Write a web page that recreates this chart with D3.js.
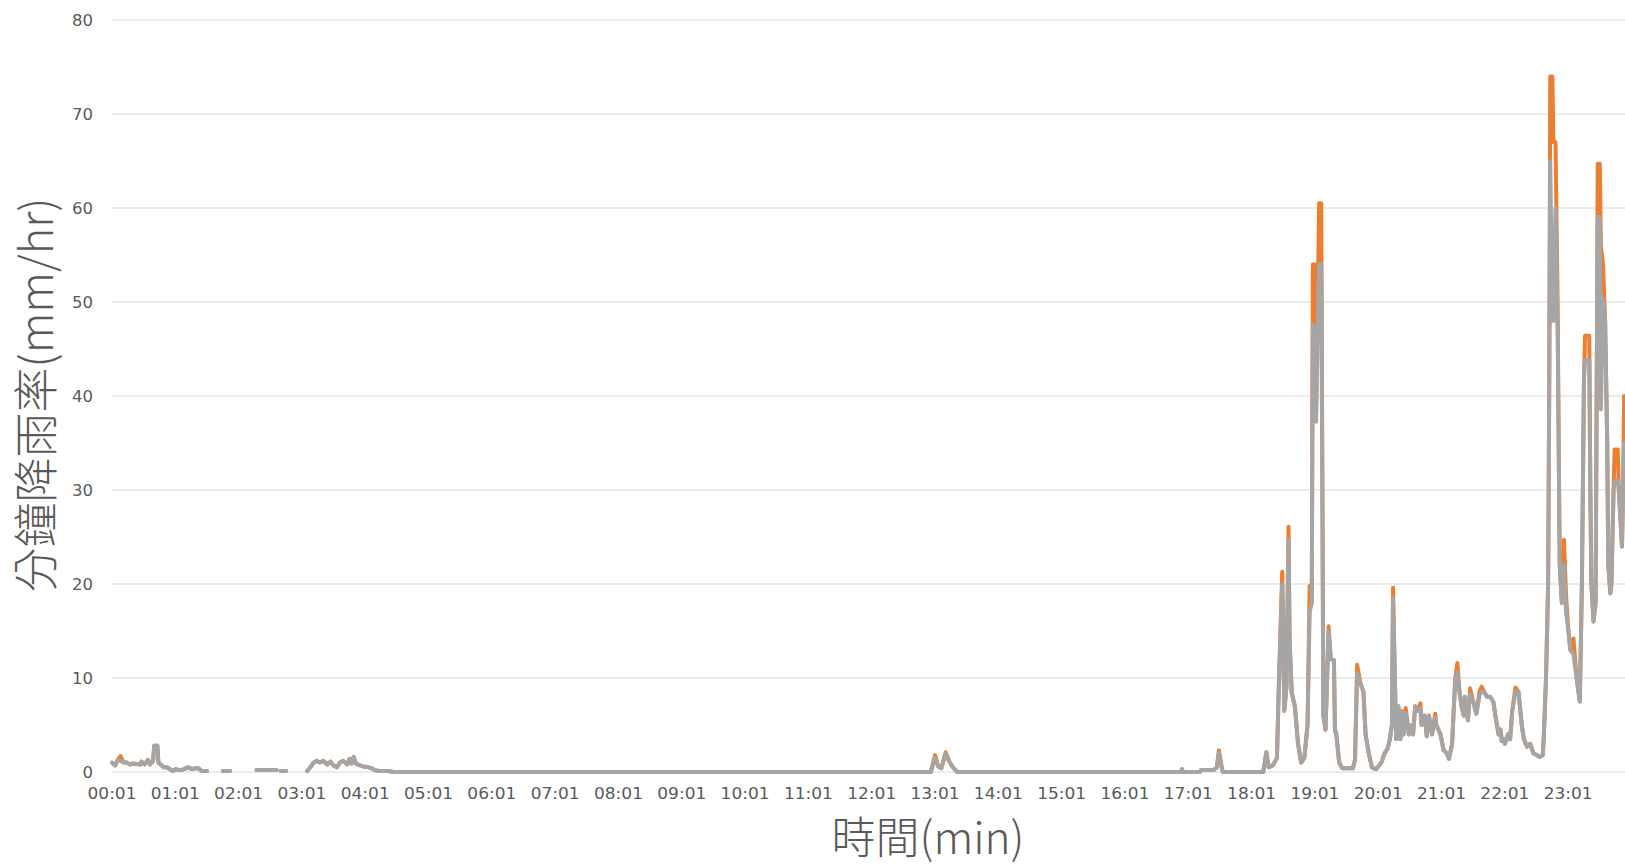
<!DOCTYPE html>
<html>
<head>
<meta charset="utf-8">
<script src="https://cdn.jsdelivr.net/npm/d3@7"></script>
<style>
  html, body { margin: 0; padding: 0; background: #ffffff; overflow: hidden; }
  svg { display: block; }
</style>
</head>
<body>
<svg id="chart" width="1625" height="866"></svg>
<script>
// ---- Data (minute of day: 1 = 00:01) ----
const minutes = [
  1,4,6,9,12,15,18,21,28,29,32,35,37,40,41,44,45,47,50,53,56,59,61,66,69,73,77,80,83,86,91,92,
  106,113,114,138,157,158,161,166,167,
  186,189,192,195,198,201,205,208,211,214,217,220,224,226,228,230,232,236,239,244,247,250,254,256,263,268,
  777,781,784,787,791,795,798,802,
  1014,1015,1016,1032,1033,1045,1048,1050,1053,1054,
  1092,1095,1097,1101,1105,1107,1110,1112,1114,1116,1117,1119,1122,1125,1128,1131,1134,1136,1138,1139,1141,1142,1145,1147,
  1149,1151,1154,1156,1159,1160,1161,1164,1167,1177,1179,1181,1184,1187,1189,1192,1195,1199,
  1204,1207,1210,1212,1214,1215,1218,1220,1222,1223,1225,1227,1230,1231,1234,1236,1238,1241,1242,1245,1247,1249,1252,1255,1256,1260,1263,1266,1268,
  1271,1274,1276,1278,1280,1282,1283,1286,1288,1291,1294,1297,1299,1301,1304,1307,1310,1312,1315,1317,1318,1320,1321,1324,1326,1328,1331,1334,1337,1339,1342,1345,1348,1351,1354,1357,
  1358,1360,1362,1363,1364,1366,1367,1369,1371,1372,1373,1375,1377,1379,1381,1383,1386,1389,1392,1394,1396,1397,1401,1402,1403,1405,1407,
  1408,1409,1411,1412,1414,1416,1418,1419,1421,1422,1424,1425,1428,1429,1430,1432,1433,1434,1437,1440
];
const rateOrange = [
  1.0,0.7,1.2,1.7,1.0,1.0,0.8,0.9,0.8,1.1,0.8,1.3,0.8,1.2,2.8,2.8,1.0,0.8,0.5,0.5,0.3,0.1,0.3,0.2,0.3,0.5,0.3,0.4,0.4,0.1,0.1,null,
  0.1,0.1,null,0.2,0.2,null,0.1,0.1,null,
  0.1,0.5,1.0,1.2,1.0,1.2,0.8,1.1,0.7,0.5,1.0,1.2,0.8,1.4,0.9,1.6,0.9,0.7,0.6,0.5,0.4,0.2,0.1,0.1,0.1,0,
  0,1.8,0.6,0.4,2.1,1.0,0.5,0,
  0,0.3,0,0,0.2,0.2,0.5,2.3,0.3,0,
  0,2.1,0.5,0.7,1.5,10,21.3,6.5,9,26.1,14,8.4,7,3,1,1.5,5,19.8,18,54,54,37.3,60.5,60.5,
  6,4.5,15.5,12,11.9,4.3,4.3,1,0.4,0.4,1.3,11.4,9.5,8.5,4,2,0.5,0.3,
  1,2,2.5,3.5,5,19.6,3.5,7,3.5,6.5,4,6.8,4,5,4,7,6.5,7.3,5,6,3.8,6,4,6.2,5,4,2.3,2,1.4,
  3,10,11.6,8.5,7,6,8,5.5,8.9,7.5,6.2,8.6,9.1,8.6,8,8,7.5,6,4,4.5,3.3,3.5,3,4,3.5,6.5,9,8.5,5,3.5,2.7,3,2,1.8,1.6,1.8,
  4,10,20,40,74,74,67,67,50,35,22,18,24.7,18.8,15.3,13,14.2,10,7.5,20,42,46.4,46.4,30,20,16,18,
  40,64.7,64.7,56,54,48,35,22,19,20,30,34.3,34.3,30,27.9,24,30,40,30,25
];
const rateGray = [
  1.0,0.7,1.2,1.2,1.0,1.0,0.8,0.9,0.8,1.1,0.8,1.3,0.8,1.2,2.8,2.8,1.0,0.8,0.5,0.5,0.3,0.1,0.3,0.2,0.3,0.5,0.3,0.4,0.4,0.1,0.1,null,
  0.1,0.1,null,0.2,0.2,null,0.1,0.1,null,
  0.1,0.5,1.0,1.2,1.0,1.2,0.8,1.1,0.7,0.5,1.0,1.2,0.8,1.4,0.9,1.6,0.9,0.7,0.6,0.5,0.4,0.2,0.1,0.1,0.1,0,
  0,1.5,0.6,0.4,1.9,1.0,0.5,0,
  0,0.3,0,0,0.2,0.2,0.5,2.0,0.3,0,
  0,2.1,0.5,0.7,1.5,10,20,6.5,9,24.7,14,8.4,7,3,1,1.5,5,17,18,47.6,47,37.3,54,54,
  6,4.5,15,12,11.9,4.3,4.3,1,0.4,0.4,1.3,10.5,9.5,8.5,4,2,0.5,0.3,
  1,2,2.5,3.5,5,18.5,3.5,7,3.5,6.5,4,6.3,4,5,4,7,6.5,6.8,5,6,3.8,6,4,5.8,5,4,2.3,2,1.4,
  3,10,10.6,8.5,7,6,8,5.5,8.3,7.5,6.2,8.2,8.5,8.6,8,8,7.5,6,4,4.5,3.3,3.5,3,4,3.5,6.5,8.5,8.5,5,3.5,2.7,3,2,1.8,1.6,1.8,
  4,10,20,40,65,48,48,60,47,35,22,18,22,17,15.3,13,12.5,10,7.5,20,42,43.8,43.8,30,20,16,18,
  40,59.1,59,38.6,50.3,48,35,22,19,20,30,31,31,30,27.9,24,30,35,30,25
];
const yTicks = [0, 10, 20, 30, 40, 50, 60, 70, 80];
const xTickLabels = ["00:01","01:01","02:01","03:01","04:01","05:01","06:01","07:01","08:01","09:01","10:01","11:01",
                     "12:01","13:01","14:01","15:01","16:01","17:01","18:01","19:01","20:01","21:01","22:01","23:01"];
const yTitle = "分鐘降雨率(mm/hr)";
const xTitle = "時間(min)";

// ---- Layout ----
const svg = d3.select("#chart");
const plotLeft = 112, plotTop = 20, plotBottom = 772;
const minuteSpan = 1.0552;
const x = d3.scaleLinear().domain([1, 1440]).range([plotLeft, plotLeft + 1439 * minuteSpan]);
const y = d3.scaleLinear().domain([0, 80]).range([plotBottom, plotTop]);

const labelFont = "'DejaVu Sans', sans-serif";
const textColor = "#595959";

// gridlines
svg.append("g").selectAll("line").data(yTicks).join("line")
  .attr("x1", plotLeft).attr("x2", 1660)
  .attr("y1", d => y(d)).attr("y2", d => y(d))
  .attr("stroke", "#d9d9d9").attr("stroke-width", 1.2);

// y tick labels
svg.append("g").selectAll("text").data(yTicks).join("text")
  .attr("x", 93).attr("y", d => y(d)).attr("dy", "0.36em")
  .attr("text-anchor", "end")
  .attr("font-family", labelFont).attr("font-size", 16.5)
  .attr("fill", textColor).text(d => d);

// x tick labels
const tickMinutes = xTickLabels.map(s => +s.slice(0, 2) * 60 + +s.slice(3));
svg.append("g").selectAll("text").data(xTickLabels).join("text")
  .attr("x", (d, i) => x(tickMinutes[i])).attr("y", 799)
  .attr("text-anchor", "middle")
  .attr("font-family", labelFont).attr("font-size", 16.5)
  .attr("fill", textColor).attr("textLength", 49).attr("lengthAdjust", "spacingAndGlyphs")
  .text(d => d);

// series
const rows = minutes.map((m, i) => ({ m, o: rateOrange[i], g: rateGray[i] }));
const lineFor = key => d3.line()
  .defined(d => d[key] !== null && d[key] !== undefined)
  .x(d => x(d.m)).y(d => y(d[key]))
  .curve(d3.curveLinear);

svg.append("path").datum(rows)
  .attr("d", lineFor("o"))
  .attr("fill", "none").attr("stroke", "#ed7d31")
  .attr("stroke-width", 4).attr("stroke-linejoin", "round").attr("stroke-linecap", "round");

svg.append("path").datum(rows)
  .attr("d", lineFor("g"))
  .attr("fill", "none").attr("stroke", "#a5a5a5")
  .attr("stroke-width", 4).attr("stroke-linejoin", "round").attr("stroke-linecap", "round");

// axis titles
const cjkFont = "'Noto Sans CJK TC', 'Noto Sans CJK SC', sans-serif";
svg.append("text")
  .attr("transform", "translate(53,395) rotate(-90)")
  .attr("text-anchor", "middle")
  .attr("font-family", cjkFont).attr("font-size", 45).attr("font-weight", 300)
  .attr("fill", textColor).text(yTitle);

svg.append("text")
  .attr("x", 928).attr("y", 854)
  .attr("text-anchor", "middle")
  .attr("font-family", cjkFont).attr("font-size", 44).attr("font-weight", 300)
  .attr("fill", textColor).text(xTitle);
</script>
</body>
</html>
